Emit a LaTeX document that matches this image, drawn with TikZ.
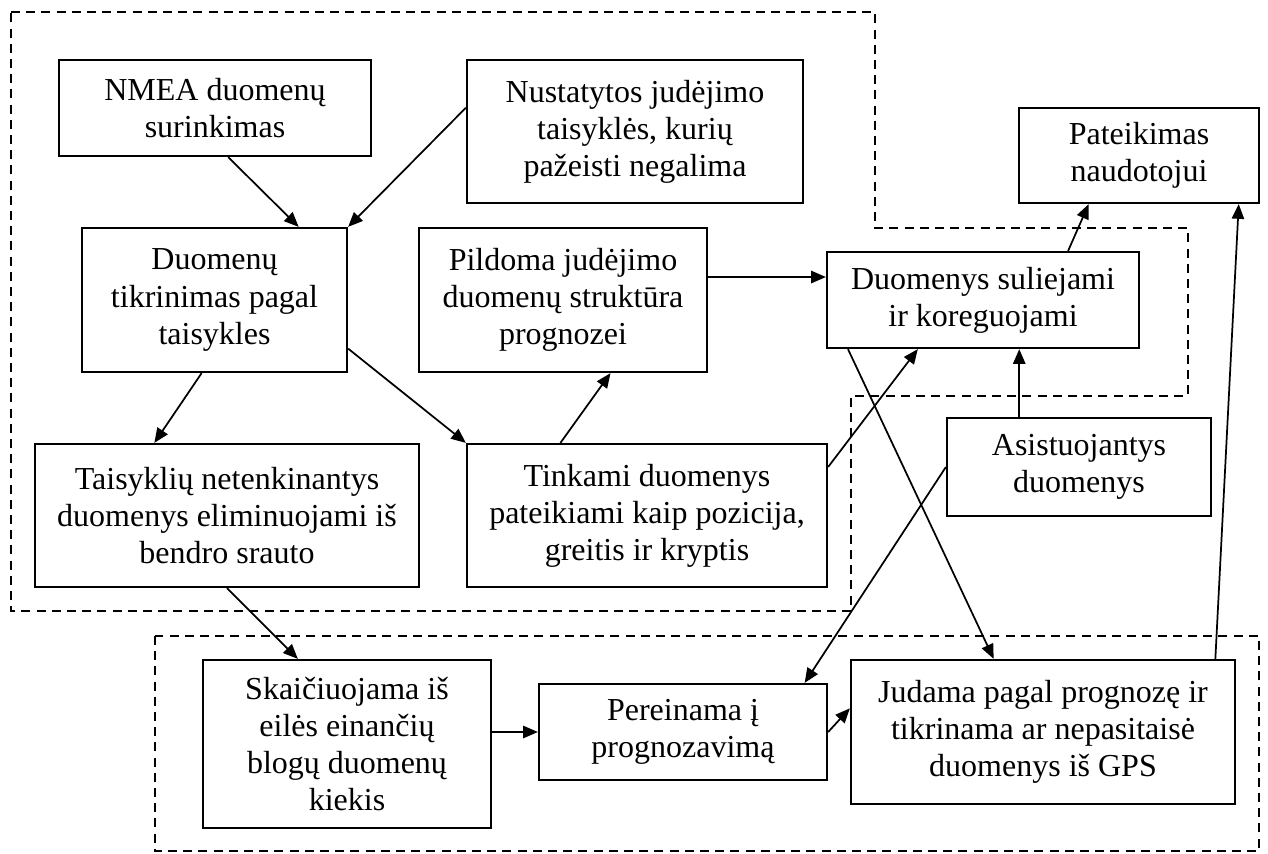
\documentclass[tikz,border=0pt]{standalone}
\usepackage{fontspec}
\setmainfont{Liberation Serif}
\usetikzlibrary{arrows.meta}

\tikzset{
  box/.style 2 args={draw, line width=0.85pt, align=center, inner sep=0pt,
    minimum width=#1*0.375pt, minimum height=#2*0.375pt,
    font=\fontsize{12}{13.9}\selectfont},
  link/.style={-{Triangle[length=5.5pt,width=4.6pt]}, line width=0.65pt},
  area/.style={dash pattern=on 3.4pt off 2.3pt, line width=0.55pt}
}

\begin{document}
\begin{tikzpicture}[x=0.375pt, y=-0.375pt]
      \useasboundingbox (0,0) rectangle (1268,853);
      % areas
      \draw[area] (11,12) -- (875,12) -- (875,228) -- (1188,228) -- (1188,396)
        -- (851,396) -- (851,611) -- (11,611) -- cycle;
      \draw[area] (155,636) rectangle (1259,851);
      % steps
      \node[box={312}{96}] (nmea) at (215,108) {NMEA duomenų\\surinkimas};
      \node[box={336}{143}] (rules) at (635,131.5) {Nustatytos judėjimo\\taisyklės, kurių\\pažeisti negalima};
      \node[box={265}{144}] (check) at (214.5,300) {Duomenų\\tikrinimas pagal\\taisykles};
      \node[box={288}{144}] (fill) at (563,300) {Pildoma judėjimo\\duomenų struktūra\\prognozei};
      \node[box={312}{96}] (fuse) at (983,300) {Duomenys suliejami\\ir koreguojami};
      \node[box={240}{95}] (present) at (1139,155.5) {Pateikimas\\naudotojui};
      \node[box={384}{143}] (reject) at (227,515.5) {Taisyklių netenkinantys\\duomenys eliminuojami iš\\bendro srauto};
      \node[box={360}{143}] (valid) at (647,515.5) {Tinkami duomenys\\pateikiami kaip pozicija,\\greitis ir kryptis};
      \node[box={264}{98}] (assist) at (1079,467) {Asistuojantys\\duomenys};
      \node[box={288}{168}] (count) at (347,744) {Skaičiuojama iš\\eilės einančių\\blogų duomenų\\kiekis};
      \node[box={288}{96}] (switch) at (683,732) {Pereinama į\\prognozavimą};
      \node[box={384}{144}] (move) at (1043,732) {Judama pagal prognozę ir\\tikrinama ar nepasitaisė\\duomenys iš GPS};
      % links
      \draw[link] (nmea.-75) -- (check.41);
      \draw[link] (rules.172) -- (check.north east);
      \draw[link] (check.-100) -- (reject.135);
      \draw[link] (check.-20) -- (valid.north west);
      \draw[link] (valid.140) -- (fill.-57);
      \draw[link] (fill.9.5) -- (fill.9.5 -| fuse.west);
      \draw[link] (valid.15) -- (fuse.-143);
      \draw[link] (assist.140) -- (assist.140 |- fuse.south);
      \draw[link] (fuse.30) -- (present.-136);
      \draw[link] (fuse.-160) -- (move.124);
      \draw[link] (assist.west) -- (switch.22);
      \draw[link] (reject.south) -- (count.120);
      \draw[link] (switch.west -| count.east) -- (switch.west);
      \draw[link] (switch.east) -- (move.173);
      \draw[link] (move.23) -- (present.-26);
    \end{tikzpicture}
\end{document}
